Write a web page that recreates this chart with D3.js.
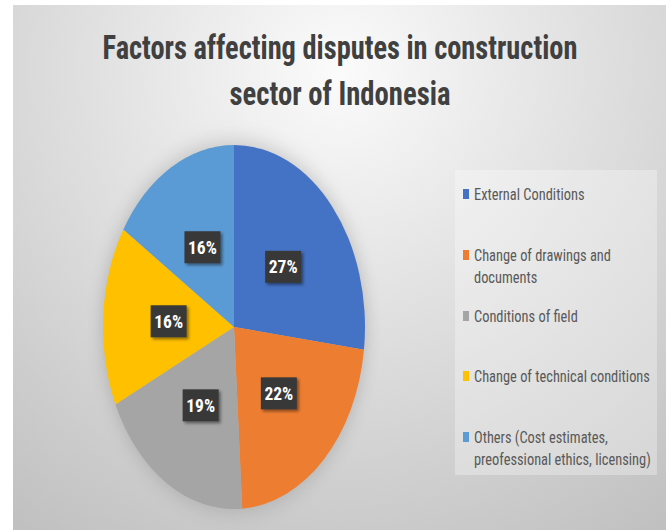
<!DOCTYPE html>
<html>
<head>
<meta charset="utf-8">
<script src="https://cdn.jsdelivr.net/npm/d3@7"></script>
<style>
  body { margin: 0; background: #fff; }
  svg { display: block; }
</style>
</head>
<body>
<div id="chart"></div>
<script>
var categories = ["External Conditions", "Change of drawings and documents", "Conditions of field",
                  "Change of technical conditions", "Others (Cost estimates, preofessional ethics, licensing)"]
var values = [27, 22, 19, 16, 16]
var labels = ["27%", "22%", "19%", "16%", "16%"]
// legend text as it wraps in the picture
var legendLines = [
    ["External Conditions"],
    ["Change of drawings and", "documents"],
    ["Conditions of field"],
    ["Change of technical conditions"],
    ["Others (Cost estimates,", "preofessional ethics, licensing)"]
]
var titleLines = ["Factors affecting disputes in construction", "sector of Indonesia"]
var colors = ["#4472C4", "#ED7D31", "#A5A5A5", "#FFC000", "#5B9BD5"]

var width = 669, height = 530
var font = "'Liberation Sans Narrow', 'Roboto Condensed', 'Open Sans', sans-serif"

var svg = d3.select("#chart")
    .append("svg")
    .attr("width", width)
    .attr("height", height)

var defs = svg.append("defs")

var bg = defs.append("radialGradient")
    .attr("id", "bg")
    .attr("gradientUnits", "userSpaceOnUse")
    .attr("cx", 340).attr("cy", 70).attr("r", 560)
bg.append("stop").attr("offset", "0%").attr("stop-color", "#fbfbfb")
bg.append("stop").attr("offset", "45%").attr("stop-color", "#e0e0e0")
bg.append("stop").attr("offset", "100%").attr("stop-color", "#c0c0c0")

var glow = defs.append("filter").attr("id", "glow")
    .attr("x", "-20%").attr("y", "-20%").attr("width", "140%").attr("height", "140%")
glow.append("feGaussianBlur").attr("stdDeviation", 6)

var shadow = defs.append("filter").attr("id", "shadow")
    .attr("x", "-30%").attr("y", "-30%").attr("width", "160%").attr("height", "160%")
shadow.append("feDropShadow").attr("dx", 2).attr("dy", 2).attr("stdDeviation", 1.5)
    .attr("flood-color", "#000").attr("flood-opacity", 0.45)

// chart area
svg.append("rect")
    .attr("x", 13).attr("y", 5)
    .attr("width", 653).attr("height", 525)
    .attr("fill", "url(#bg)")

// title, squeezed horizontally to the width it has in the picture
var titleWidth = [475, 221]
svg.selectAll(".title")
    .data(titleLines)
    .enter()
    .append("g")
    .attr("class", "title")
    .append("text")
    .attr("text-anchor", "middle")
    .attr("font-family", font)
    .attr("font-weight", "bold")
    .attr("font-size", 34)
    .attr("fill", "#404040")
    .text(d => d)
    .each(function(d, i) {
        var w = this.getComputedTextLength()
        d3.select(this.parentNode)
            .attr("transform", "translate(340," + (59 + i * 46) + ") scale(" + (titleWidth[i] / w) + ",1)")
    })

// pie is drawn in a circle then stretched into the ellipse of the picture
var cx = 234, cy = 327, rx = 131, ry = 182, r = 100

var pie = d3.pie().sort(null).value(d => d)
var arc = d3.arc().innerRadius(0).outerRadius(r)
var arcs = pie(values)

var pieG = svg.append("g")
    .attr("transform", "translate(" + cx + "," + cy + ") scale(" + (rx / r) + "," + (ry / r) + ")")

pieG.append("circle")
    .attr("r", r + 1)
    .attr("fill", "#8a8a8a")
    .attr("opacity", 0.45)
    .attr("filter", "url(#glow)")

pieG.selectAll("path")
    .data(arcs)
    .enter()
    .append("path")
    .attr("d", arc)
    .attr("fill", (d, i) => colors[i])

var labelG = svg.append("g")
    .selectAll("g")
    .data(arcs)
    .enter()
    .append("g")
    .attr("transform", function(d) {
        var c = arc.centroid(d)
        return "translate(" + (cx + c[0] * rx / r) + "," + (cy + c[1] * ry / r) + ")"
    })

labelG.append("rect")
    .attr("x", -18).attr("y", -16)
    .attr("width", 36).attr("height", 32)
    .attr("fill", "#383838")
    .attr("filter", "url(#shadow)")

labelG.append("text")
    .attr("text-anchor", "middle")
    .attr("y", 6.5)
    .attr("font-family", font)
    .attr("font-weight", "bold")
    .attr("font-size", 17.5)
    .attr("fill", "#fff")
    .text((d, i) => labels[i])

// legend
svg.append("rect")
    .attr("x", 455).attr("y", 170)
    .attr("width", 202).attr("height", 305)
    .attr("fill", "#ffffff")
    .attr("opacity", 0.3)

var legendY = [194, 255, 316, 376, 437]

var legend = svg.append("g")
    .selectAll("g")
    .data(legendLines)
    .enter()
    .append("g")
    .attr("transform", (d, i) => "translate(463," + legendY[i] + ")")

legend.append("rect")
    .attr("x", 0).attr("y", -5)
    .attr("width", 6).attr("height", 10)
    .attr("fill", (d, i) => colors[i])

legend.append("g")
    .attr("transform", "translate(11,0) scale(0.9,1)")
    .selectAll("text")
    .data(d => d)
    .enter()
    .append("text")
    .attr("y", (d, j) => 5.5 + j * 23)
    .attr("font-family", font)
    .attr("font-size", 16)
    .attr("fill", "#595959")
    .text(d => d)
</script>
</body>
</html>
